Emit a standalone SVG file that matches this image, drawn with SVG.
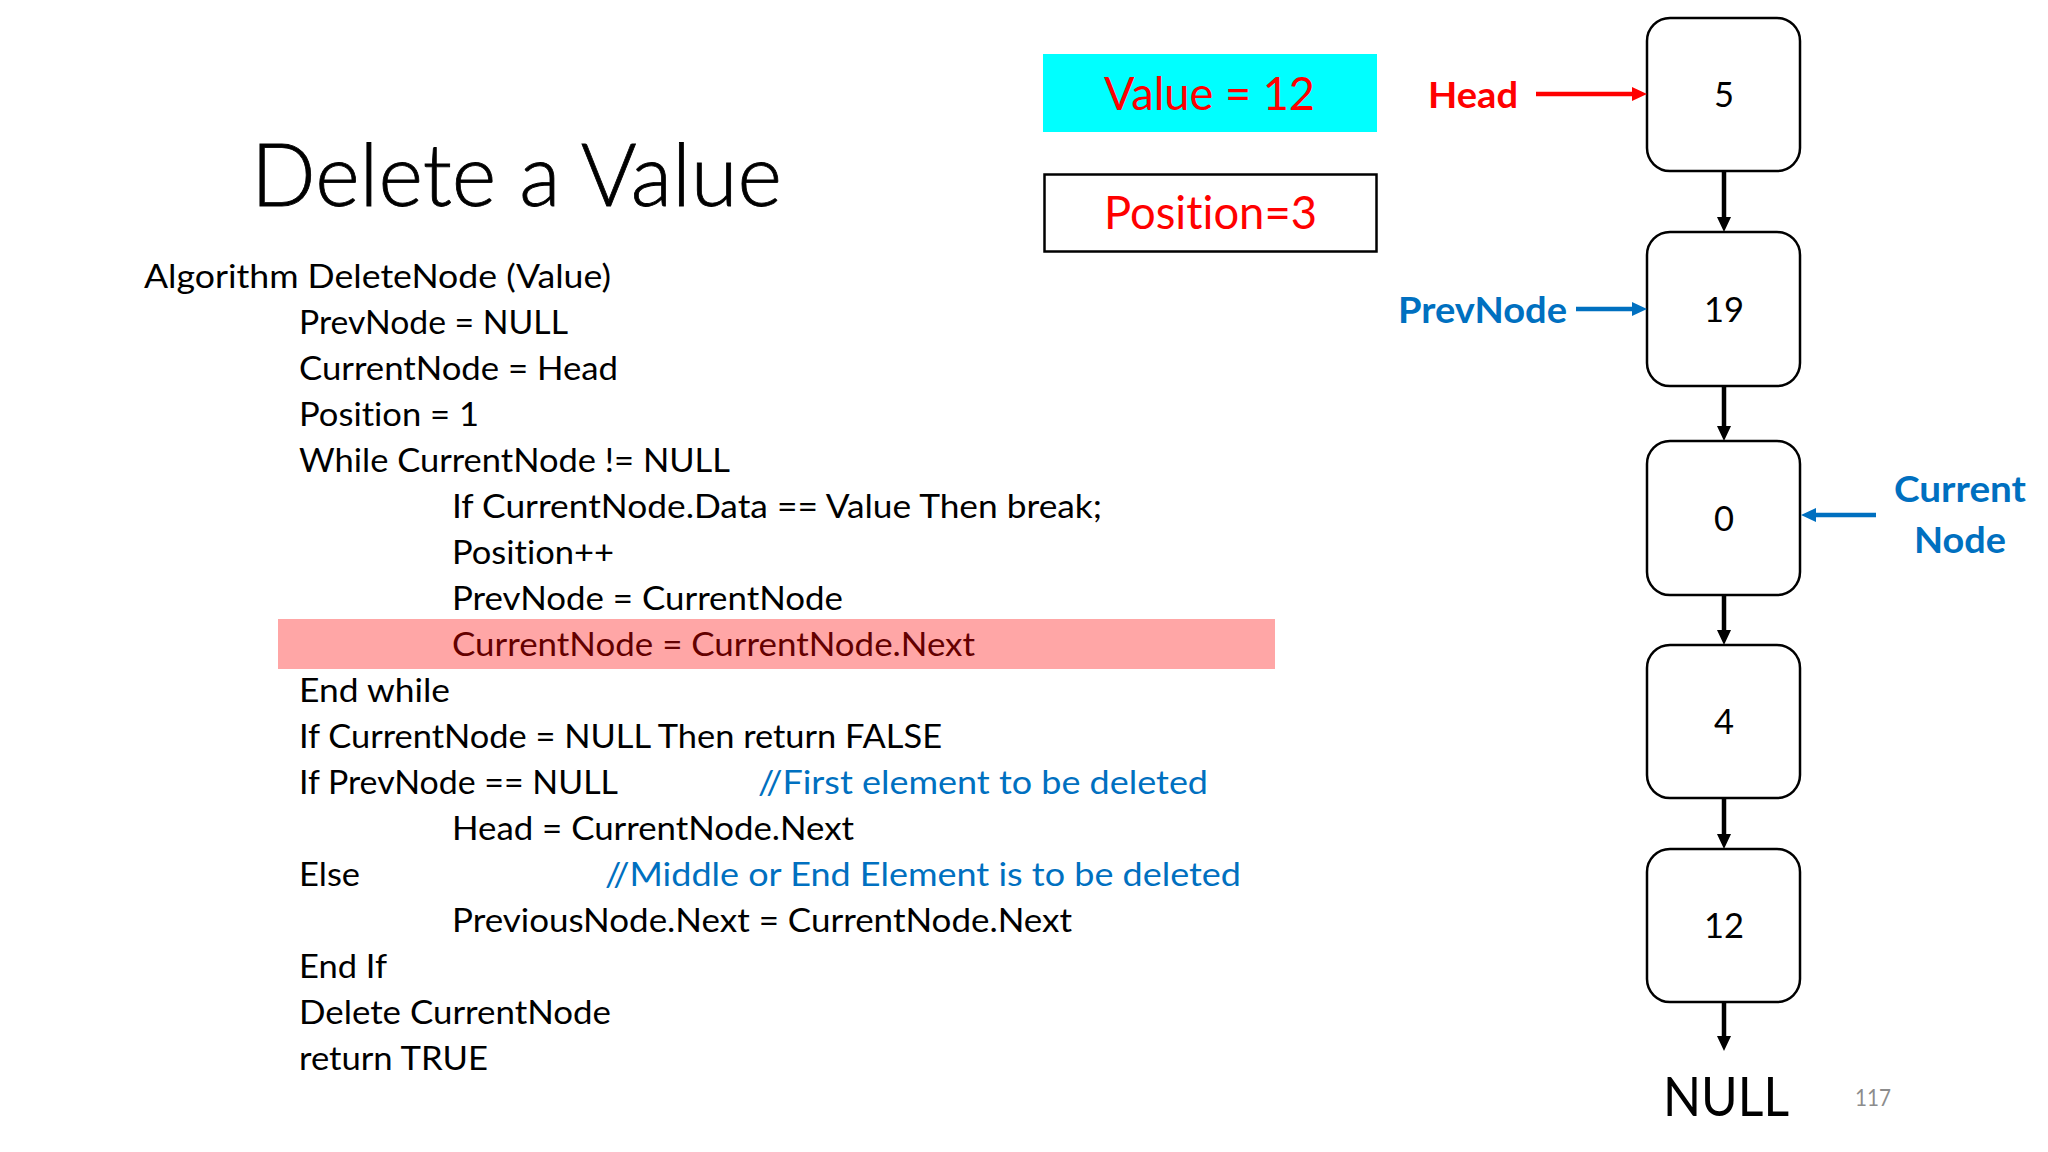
<svg xmlns="http://www.w3.org/2000/svg" width="2048" height="1152" viewBox="0 0 2048 1152">
<style>
text{font-family:"Lato","Open Sans","Liberation Sans",sans-serif;font-variant-ligatures:none;font-feature-settings:"liga" 0;}
.code{font-size:32px;fill:#000;}
.hl{fill:#640000;}
.cm{fill:#0070C0;}
.node rect{fill:#fff;stroke:#000;stroke-width:2.5;}
.node text{font-size:34.5px;fill:#000;text-anchor:middle;}
.lbl{font-weight:bold;font-size:36px;}
.big{font-size:46px;fill:#FF0000;}
</style>
<defs>
<marker id="ahK" markerUnits="userSpaceOnUse" markerWidth="15" markerHeight="14" refX="0" refY="7" orient="auto" viewBox="0 0 15 14"><path d="M0,0 L15,7 L0,14 z" fill="#000"/></marker>
<marker id="ahR" markerUnits="userSpaceOnUse" markerWidth="15" markerHeight="14" refX="0" refY="7" orient="auto" viewBox="0 0 15 14"><path d="M0,0 L15,7 L0,14 z" fill="#FF0000"/></marker>
<marker id="ahB" markerUnits="userSpaceOnUse" markerWidth="15" markerHeight="14" refX="0" refY="7" orient="auto" viewBox="0 0 15 14"><path d="M0,0 L15,7 L0,14 z" fill="#0070C0"/></marker>
</defs>
<rect width="2048" height="1152" fill="#fff"/>

<g id="title">
<text x="251" y="206" font-size="86" font-weight="300" stroke="#000" stroke-width="0.8" textLength="531" lengthAdjust="spacingAndGlyphs">Delete a Value</text>
</g>

<g id="code">
<rect x="278" y="619" width="997" height="50" fill="#FFA6A6"/>
<text class="code" x="144" y="288" textLength="467" lengthAdjust="spacingAndGlyphs">Algorithm DeleteNode (Value)</text>
<text class="code" x="299" y="334" textLength="269" lengthAdjust="spacingAndGlyphs">PrevNode = NULL</text>
<text class="code" x="299" y="380" textLength="319" lengthAdjust="spacingAndGlyphs">CurrentNode = Head</text>
<text class="code" x="299" y="426" textLength="180" lengthAdjust="spacingAndGlyphs">Position = 1</text>
<text class="code" x="299" y="472" textLength="431" lengthAdjust="spacingAndGlyphs">While CurrentNode != NULL</text>
<text class="code" x="452" y="518" textLength="650" lengthAdjust="spacingAndGlyphs">If CurrentNode.Data == Value Then break;</text>
<text class="code" x="452" y="564" textLength="162" lengthAdjust="spacingAndGlyphs">Position++</text>
<text class="code" x="452" y="610" textLength="391" lengthAdjust="spacingAndGlyphs">PrevNode = CurrentNode</text>
<text class="code hl" x="452" y="656" textLength="523" lengthAdjust="spacingAndGlyphs">CurrentNode = CurrentNode.Next</text>
<text class="code" x="299" y="702" textLength="151" lengthAdjust="spacingAndGlyphs">End while</text>
<text class="code" x="299" y="748" textLength="643" lengthAdjust="spacingAndGlyphs">If CurrentNode = NULL Then return FALSE</text>
<text class="code" x="299" y="794" textLength="319" lengthAdjust="spacingAndGlyphs">If PrevNode == NULL</text>
<text class="code cm" x="758" y="794" textLength="450" lengthAdjust="spacingAndGlyphs">//First element to be deleted</text>
<text class="code" x="452" y="840" textLength="402" lengthAdjust="spacingAndGlyphs">Head = CurrentNode.Next</text>
<text class="code" x="299" y="886" textLength="61" lengthAdjust="spacingAndGlyphs">Else</text>
<text class="code cm" x="605" y="886" textLength="636" lengthAdjust="spacingAndGlyphs">//Middle or End Element is to be deleted</text>
<text class="code" x="452" y="932" textLength="620" lengthAdjust="spacingAndGlyphs">PreviousNode.Next = CurrentNode.Next</text>
<text class="code" x="299" y="978" textLength="88" lengthAdjust="spacingAndGlyphs">End If</text>
<text class="code" x="299" y="1024" textLength="312" lengthAdjust="spacingAndGlyphs">Delete CurrentNode</text>
<text class="code" x="299" y="1070" textLength="189" lengthAdjust="spacingAndGlyphs">return TRUE</text>
</g>

<g id="value-box">
<rect x="1043" y="54" width="334" height="78" fill="#00FFFF"/>
<text class="big" x="1104" y="110" textLength="211" lengthAdjust="spacingAndGlyphs">Value = 12</text>
</g>
<g id="position-box">
<rect x="1044.5" y="174.5" width="332" height="77" fill="#fff" stroke="#000" stroke-width="2.5"/>
<text class="big" x="1104" y="229" textLength="213" lengthAdjust="spacingAndGlyphs">Position=3</text>
</g>

<g id="label-head"><text class="lbl" x="1428" y="108" fill="#FF0000" textLength="90" lengthAdjust="spacingAndGlyphs">Head</text></g>
<g id="label-prev"><text class="lbl" x="1398" y="323" fill="#0070C0" textLength="169" lengthAdjust="spacingAndGlyphs">PrevNode</text></g>
<g id="label-current">
<text class="lbl" x="1960" y="502" fill="#0070C0" text-anchor="middle" textLength="132" lengthAdjust="spacingAndGlyphs">Current</text>
<text class="lbl" x="1960" y="553" fill="#0070C0" text-anchor="middle" textLength="92" lengthAdjust="spacingAndGlyphs">Node</text>
</g>

<g id="node-5" class="node"><rect x="1647" y="18" width="153" height="153" rx="23"/><text x="1724" y="107">5</text></g>
<g id="node-19" class="node"><rect x="1647" y="232" width="153" height="154" rx="23"/><text x="1724" y="321.5">19</text></g>
<g id="node-0" class="node"><rect x="1647" y="441" width="153" height="154" rx="23"/><text x="1724" y="530.5">0</text></g>
<g id="node-4" class="node"><rect x="1647" y="645" width="153" height="153" rx="23"/><text x="1724" y="734">4</text></g>
<g id="node-12" class="node"><rect x="1647" y="849" width="153" height="153" rx="23"/><text x="1724" y="938">12</text></g>

<g id="null"><text x="1726" y="1116" font-size="54" text-anchor="middle" textLength="126" lengthAdjust="spacingAndGlyphs">NULL</text></g>
<g id="page-number"><text x="1855" y="1106" font-size="23" fill="#8C8C8C" textLength="36" lengthAdjust="spacingAndGlyphs">117</text></g>

<g id="connectors" fill="none" stroke-width="4.5">
<line x1="1724" y1="171" x2="1724" y2="217" stroke="#000" marker-end="url(#ahK)"/>
<line x1="1724" y1="386" x2="1724" y2="426" stroke="#000" marker-end="url(#ahK)"/>
<line x1="1724" y1="595" x2="1724" y2="630" stroke="#000" marker-end="url(#ahK)"/>
<line x1="1724" y1="798" x2="1724" y2="834" stroke="#000" marker-end="url(#ahK)"/>
<line x1="1724" y1="1002" x2="1724" y2="1036" stroke="#000" marker-end="url(#ahK)"/>
<line x1="1536" y1="94" x2="1632" y2="94" stroke="#FF0000" marker-end="url(#ahR)"/>
<line x1="1576" y1="309" x2="1632" y2="309" stroke="#0070C0" marker-end="url(#ahB)"/>
<line x1="1876" y1="515" x2="1816" y2="515" stroke="#0070C0" marker-end="url(#ahB)"/>
</g>
</svg>
